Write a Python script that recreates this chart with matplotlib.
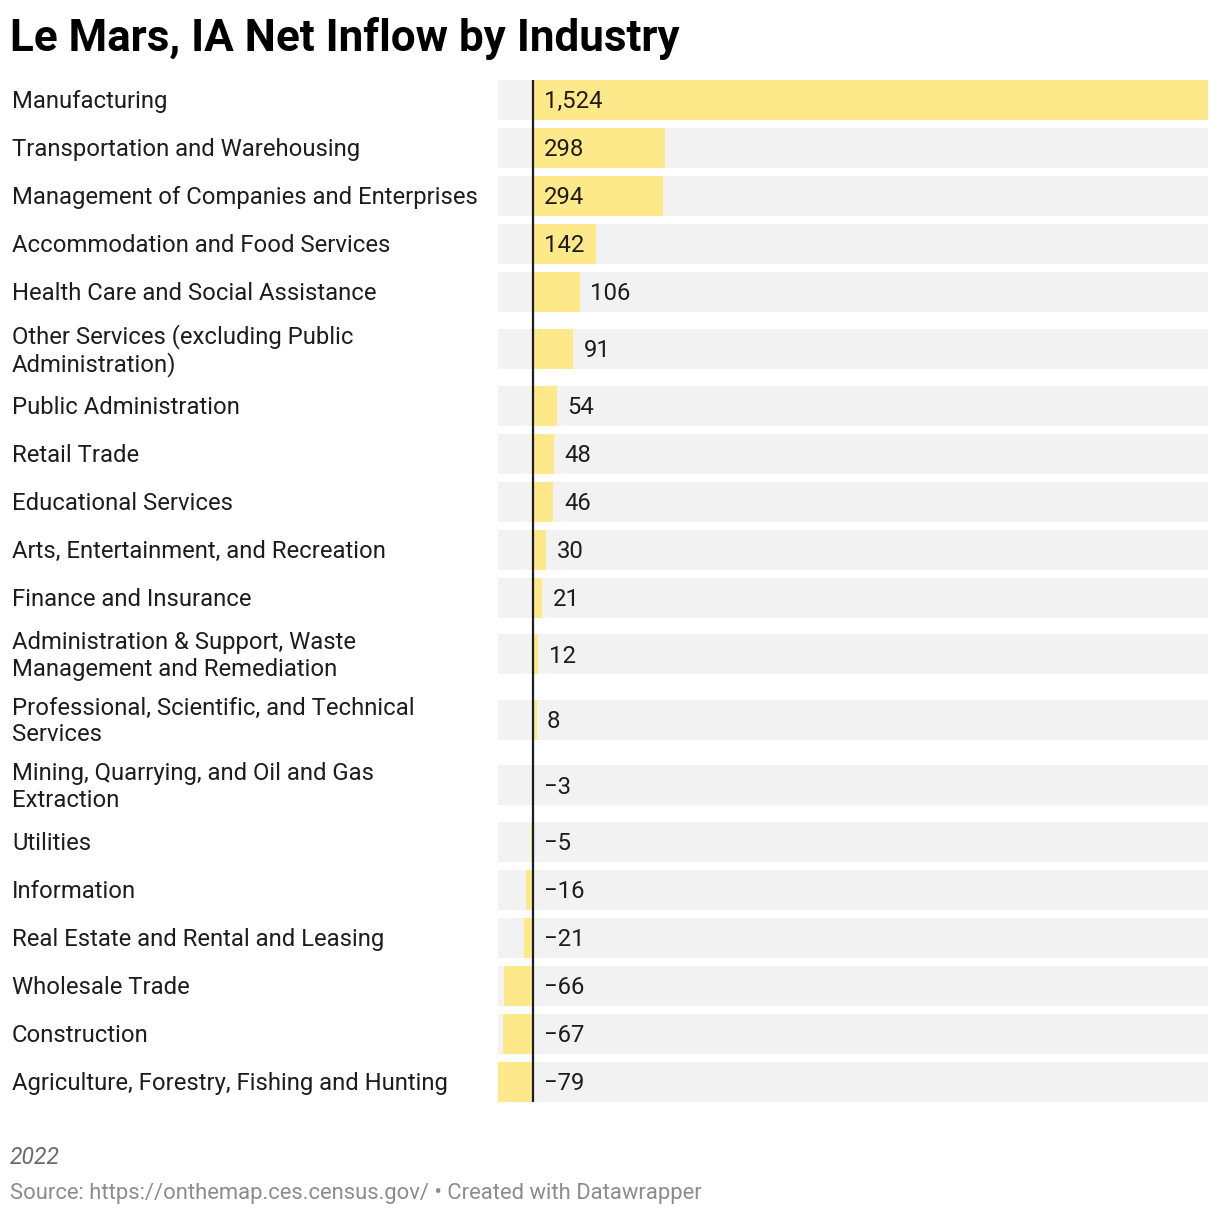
import matplotlib
matplotlib.use("Agg")
from matplotlib import pyplot as pp
from matplotlib.transforms import blended_transform_factory as btf

pp.rcParams["font.family"] = ["Roboto", "DejaVu Sans"]

industries = ["Manufacturing", "Transportation and Warehousing",
              "Management of Companies and Enterprises", "Accommodation and Food Services",
              "Health Care and Social Assistance",
              "Other Services (excluding Public\nAdministration)",
              "Public Administration", "Retail Trade", "Educational Services",
              "Arts, Entertainment, and Recreation", "Finance and Insurance",
              "Administration & Support, Waste\nManagement and Remediation",
              "Professional, Scientific, and Technical\nServices",
              "Mining, Quarrying, and Oil and Gas\nExtraction",
              "Utilities", "Information", "Real Estate and Rental and Leasing",
              "Wholesale Trade", "Construction", "Agriculture, Forestry, Fishing and Hunting"]
inflow = [1524, 298, 294, 142, 106, 91, 54, 48, 46, 30, 21, 12, 8, -3, -5, -16, -21, -66, -67, -79]

W, H = 1220, 1218
fig = pp.figure(figsize=(W / 100, H / 100), dpi=100)

# row layout in pixels (two-line labels get taller rows)
top = 76
centers = []
y = top
for name in industries:
    h = 65.5 if "\n" in name else 48
    centers.append(y + h / 2)
    y += h
bottom = y

ax = fig.add_axes([498 / W, 1 - bottom / H, (1208 - 498) / W, (bottom - top) / H])
ax.set_xlim(min(inflow), max(inflow))
ax.set_ylim(bottom, top)
ax.axis("off")

ax.barh(centers, [max(inflow) - min(inflow)] * len(inflow), left=min(inflow), height=40,
        color="#f2f2f2", zorder=1)
ax.barh(centers, inflow, height=40, color="#fee98a", zorder=2)
ax.vlines(0, centers[0] - 20, centers[-1] + 20, color="#1d1d1d", lw=1.6, zorder=3)

lab_tr = btf(fig.transFigure, ax.transData)
for name, c, v in zip(industries, centers, inflow):
    ax.annotate(name, (12 / W, c), xycoords=lab_tr, xytext=(0, -1.3), textcoords="offset points",
                ha="left", va="center", fontsize=17.2, color="#1d1d1d", linespacing=1.2)
    txt = f"{abs(v):,}"
    if v < 0:
        txt = "\u2212" + txt
    x0 = 0 if v > 120 else max(v, 0)  # big bars get the label inside
    ax.annotate(txt, (x0, c), xytext=(7.6, -1.3), textcoords="offset points", ha="left",
                va="center", fontsize=17.2, color="#1d1d1d", zorder=4)

fig.text(10 / W, 1 - 38 / H, "Le Mars, IA Net Inflow by Industry", fontsize=31.7,
         fontweight="bold", color="#000000", ha="left", va="center")
fig.text(10 / W, 1 - 1157 / H, "2022", fontsize=16.5, style="italic", color="#6b6b6b",
         ha="left", va="center")
fig.text(10 / W, 1 - 1194 / H, "Source: https://onthemap.ces.census.gov/ \u2022 Created with Datawrapper",
         fontsize=15.8, color="#8c8c8c", ha="left", va="center")

fig.savefig("out.png", dpi=100, facecolor="white")
